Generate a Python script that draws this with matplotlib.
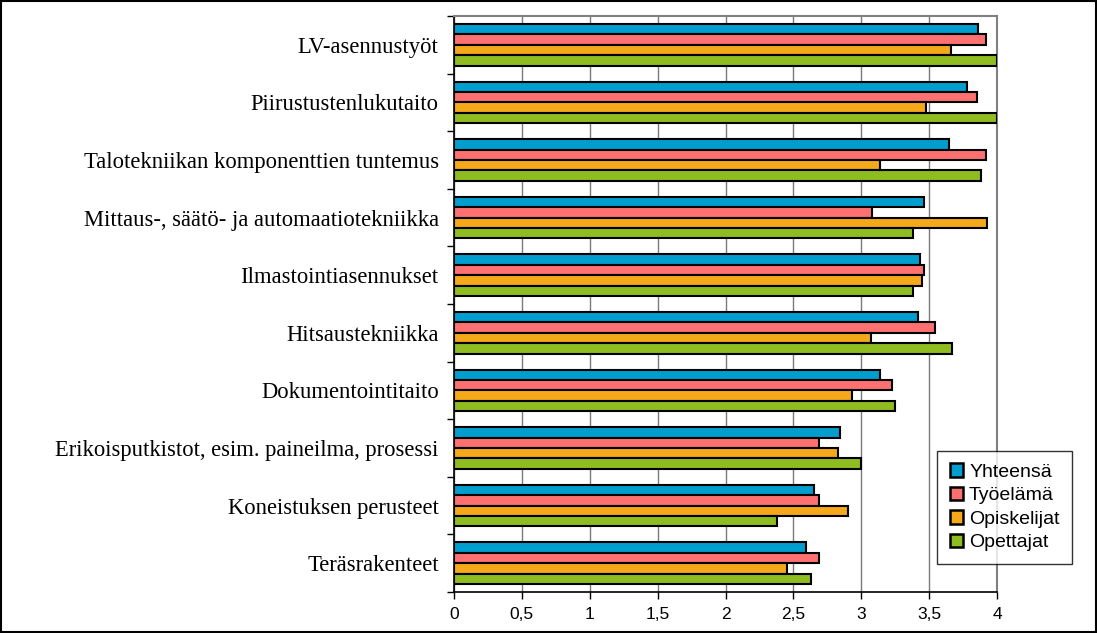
import numpy as np
import matplotlib.pyplot as plt
from matplotlib.patches import Rectangle
from matplotlib.ticker import MultipleLocator, FuncFormatter

categories = [
    "LV-asennustyöt",
    "Piirustustenlukutaito",
    "Talotekniikan komponenttien tuntemus",
    "Mittaus-, säätö- ja automaatiotekniikka",
    "Ilmastointiasennukset",
    "Hitsaustekniikka",
    "Dokumentointitaito",
    "Erikoisputkistot, esim. paineilma, prosessi",
    "Koneistuksen perusteet",
    "Teräsrakenteet",
]
series_names = ["Yhteensä", "Työelämä", "Opiskelijat", "Opettajat"]
yhteensa = [3.86, 3.78, 3.65, 3.46, 3.43, 3.42, 3.14, 2.84, 2.65, 2.59]
tyoelama = [3.92, 3.85, 3.92, 3.08, 3.46, 3.54, 3.23, 2.69, 2.69, 2.69]
opiskelijat = [3.66, 3.48, 3.14, 3.93, 3.45, 3.07, 2.93, 2.83, 2.90, 2.45]
opettajat = [4.00, 4.00, 3.88, 3.38, 3.38, 3.67, 3.25, 3.00, 2.38, 2.63]
colors = ["#009ECE", "#FF7171", "#F6A81B", "#8FBC21"]

fig = plt.figure(figsize=(10.97, 6.33), dpi=100)
ax = fig.add_axes([454 / 1097, 1 - 592 / 633, 543 / 1097, 576 / 633])

y = np.arange(len(categories))
h = 0.18
data = [yhteensa, tyoelama, opiskelijat, opettajat]
for i, (vals, name) in enumerate(zip(data, series_names)):
    ax.barh(y + (i - 1.5) * h, vals, height=h, color=colors[i],
            edgecolor="black", linewidth=1.5, label=name, zorder=3)

ax.set_xlim(0, 4)
ax.set_ylim(len(categories) - 0.5, -0.5)
ax.xaxis.set_major_locator(MultipleLocator(0.5))
ax.xaxis.set_major_formatter(FuncFormatter(lambda v, p: f"{v:g}".replace(".", ",")))
ax.grid(axis="x", color="#7a7a7a", linewidth=1.0, zorder=0)

ax.set_yticks(y)
ax.set_yticklabels(categories, family="Liberation Serif", fontsize=16.3)
ax.set_yticks(np.arange(-0.5, len(categories)), minor=True)
ax.tick_params(axis="y", which="major", length=0, pad=11)
ax.tick_params(axis="y", which="minor", length=5, width=1)
ax.tick_params(axis="x", length=5, width=1, labelsize=12.5, pad=6)
for lab in ax.get_xticklabels():
    lab.set_family("Liberation Sans")

for s in ["top", "right"]:
    ax.spines[s].set_color("#808080")
    ax.spines[s].set_linewidth(1.5)
for s in ["left", "bottom"]:
    ax.spines[s].set_color("black")
    ax.spines[s].set_linewidth(1.2)

leg = ax.legend(loc="lower left", bbox_to_anchor=(937 / 1097, 1 - 564 / 633),
                bbox_transform=fig.transFigure, frameon=True, fancybox=False,
                prop={"family": "Liberation Sans", "size": 14},
                handlelength=0.7, handleheight=0.7, handletextpad=0.3,
                labelspacing=0.3, borderpad=0.65, borderaxespad=0)
leg.get_frame().set_edgecolor("black")
leg.get_frame().set_linewidth(1.0)
leg.set_zorder(5)
for p in leg.get_patches():
    p.set_linewidth(1.8)

fig.patches.append(Rectangle((0.001, 0.001), 0.998, 0.998, transform=fig.transFigure,
                             fill=False, edgecolor="black", linewidth=1.5))

fig.savefig("out.png", dpi=100)
